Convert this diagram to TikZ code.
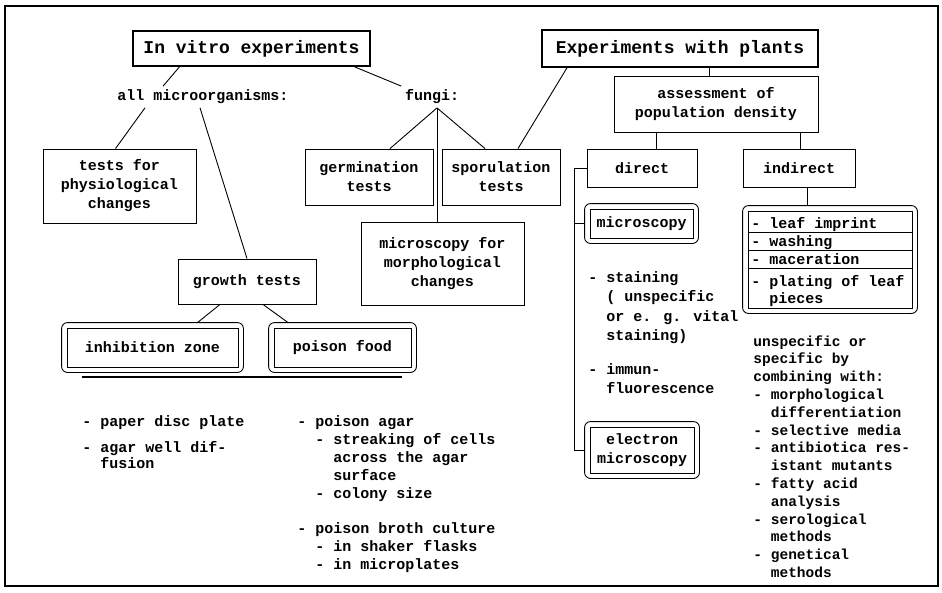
\documentclass[tikz,border=0pt]{standalone}
\usepackage{fontspec}
\setmainfont{Liberation Mono}
\usepackage{tikz}
\newcommand\sub{\phantom{- }}

\begin{document}
\begin{tikzpicture}[x=1pt, y=-1pt, line width=0.9pt,
                font=\fontsize{15}{19}\selectfont\bfseries,
                box/.style={draw, align=center, inner sep=2pt},
                head/.style={box, line width=1.6pt, font=\fontsize{18}{22}\selectfont\bfseries},
                txt/.style={align=left, inner sep=0pt, anchor=base west}]
                \useasboundingbox (0,0) rectangle (942,592);
                \draw[line width=1.5pt] (5,6) rectangle (938,586);

                \node[head, minimum width=237pt, minimum height=35pt] (inv) at (251.5,48.5) {In vitro experiments};
                \node[head, minimum width=276pt, minimum height=37pt] (ewp) at (680,48.5) {Experiments with plants};
                \node (allm) at (203,97) {all microorganisms:};
                \node (fungi) at (432,97) {fungi:};
                \node[box, minimum width=153pt, minimum height=74pt] (phys) at (119.5,186) {tests for\\physiological\\changes};
                \node[box, minimum width=128pt, minimum height=56pt] (germ) at (369,177) {germination\\tests};
                \node[box, minimum width=118pt, minimum height=56pt] (spor) at (501,177) {sporulation\\tests};
                \node[box, minimum width=163pt, minimum height=83pt] (mfor) at (442.5,263.5) {microscopy for\\morphological\\changes};
                \node[box, minimum width=138pt, minimum height=45pt] (growth) at (247,281.5) {growth tests};
                \node[box, minimum width=171pt, minimum height=39pt] (inh) at (152.5,347.5) {inhibition zone};
                \node[box, minimum width=137pt, minimum height=39pt] (pfood) at (342.5,347.5) {poison food};
                \node[box, minimum width=204pt, minimum height=56pt] (apd) at (716,104) {assessment of\\population density};
                \node[box, minimum width=110pt, minimum height=38pt] (direct) at (642,168) {direct};
                \node[box, minimum width=112pt, minimum height=38pt] (indirect) at (799,168) {indirect};
                \node[box, minimum width=103pt, minimum height=29pt] (micro) at (641.5,223.5) {microscopy};
                \node[box, minimum width=104pt, minimum height=46pt] (emicro) at (642,450) {electron\\microscopy};
                \node[draw, minimum width=164pt, minimum height=97pt] (leaf) at (830,259.5) {};

                \foreach \n in {inh,pfood,micro,emicro,leaf}{
                  \draw[rounded corners=6pt] ([xshift=-5pt,yshift=5pt]\n.north west) rectangle ([xshift=5pt,yshift=-5pt]\n.south east);
                }
                \foreach \d in {22,40,58}{
                  \draw ([yshift=-\d pt]leaf.north west) -- ([yshift=-\d pt]leaf.north east);
                }
                % multi-line texts sit on the baseline of their last line
                \node[txt] (l1) at (751,228) {- leaf imprint};
                \node[txt] (l2) at (751,246) {- washing};
                \node[txt] (l3) at (751,264) {- maceration};
                \node[txt, font=\fontsize{15}{17}\selectfont\bfseries] (l4) at (751,303) {- plating of leaf\\\sub pieces};

                \node[txt, font=\fontsize{15}{16}\selectfont\bfseries] (disc) at (82,468) {- paper disc plate\\[10pt]- agar well dif-\\\sub fusion};
                \node[txt, font=\fontsize{15}{18}\selectfont\bfseries] (agar) at (297,569) {- poison agar\\\sub- streaking of cells\\\sub\sub across the agar\\\sub\sub surface\\\sub- colony size\\[17pt]- poison broth culture\\\sub- in shaker flasks\\\sub- in microplates};
                \node[txt, font=\fontsize{15}{19.5}\selectfont\bfseries] (stain) at (588,393.5) {- staining\\\sub( unspecific\\\sub or e. g. vital\\\sub staining)\\[14pt]- immun-\\\sub fluorescence};
                \node[txt, font=\fontsize{14.5}{17.8}\selectfont\bfseries] (comb) at (753,577.4) {unspecific or\\specific by\\combining with:\\- morphological\\\sub differentiation\\- selective media\\- antibiotica res-\\\sub istant mutants\\- fatty acid\\\sub analysis\\- serological\\\sub methods\\- genetical\\\sub methods};

                \draw ([xshift=-72pt]inv.south) -- ([xshift=-40pt]allm.north);
                \draw ([xshift=103pt]inv.south) -- (fungi.north west);
                \draw ([xshift=-58pt]allm.south) -- ([xshift=-4pt]phys.north);
                \draw ([xshift=-3pt]allm.south) -- (growth.north);
                \draw ([xshift=5pt]fungi.south) -- ([xshift=21pt]germ.north);
                \draw ([xshift=5pt]fungi.south) -- ([xshift=-16pt]spor.north);
                \draw ([xshift=5pt]fungi.south) -- ([xshift=-5.5pt]mfor.north);
                \draw ([xshift=-113pt]ewp.south) -- ([xshift=17pt]spor.north);
                \draw ([xshift=29pt]ewp.south) -- ([xshift=-7pt]apd.north);
                \draw ([xshift=-60pt]apd.south) -- ([xshift=14pt]direct.north);
                \draw ([xshift=84pt]apd.south) -- ([xshift=1pt]indirect.north);
                \draw ([xshift=8pt]indirect.south) -- ([xshift=-23pt,yshift=5pt]leaf.north);
                \draw (direct.west) -- ++(-12,0) coordinate (dv) |- ([xshift=-5pt]emicro.west);
                \draw (dv |- micro.west) -- ([xshift=-5pt]micro.west);
                \draw ([xshift=-27pt]growth.south) -- ([xshift=45pt,yshift=5pt]inh.north);
                \draw ([xshift=16pt]growth.south) -- ([xshift=-54.5pt,yshift=5pt]pfood.north);
                \draw[line width=1.6pt] ([xshift=15pt,yshift=-9.5pt]inh.south west) -- ([xshift=-9pt,yshift=-9.5pt]pfood.south east);
\end{tikzpicture}
\end{document}
